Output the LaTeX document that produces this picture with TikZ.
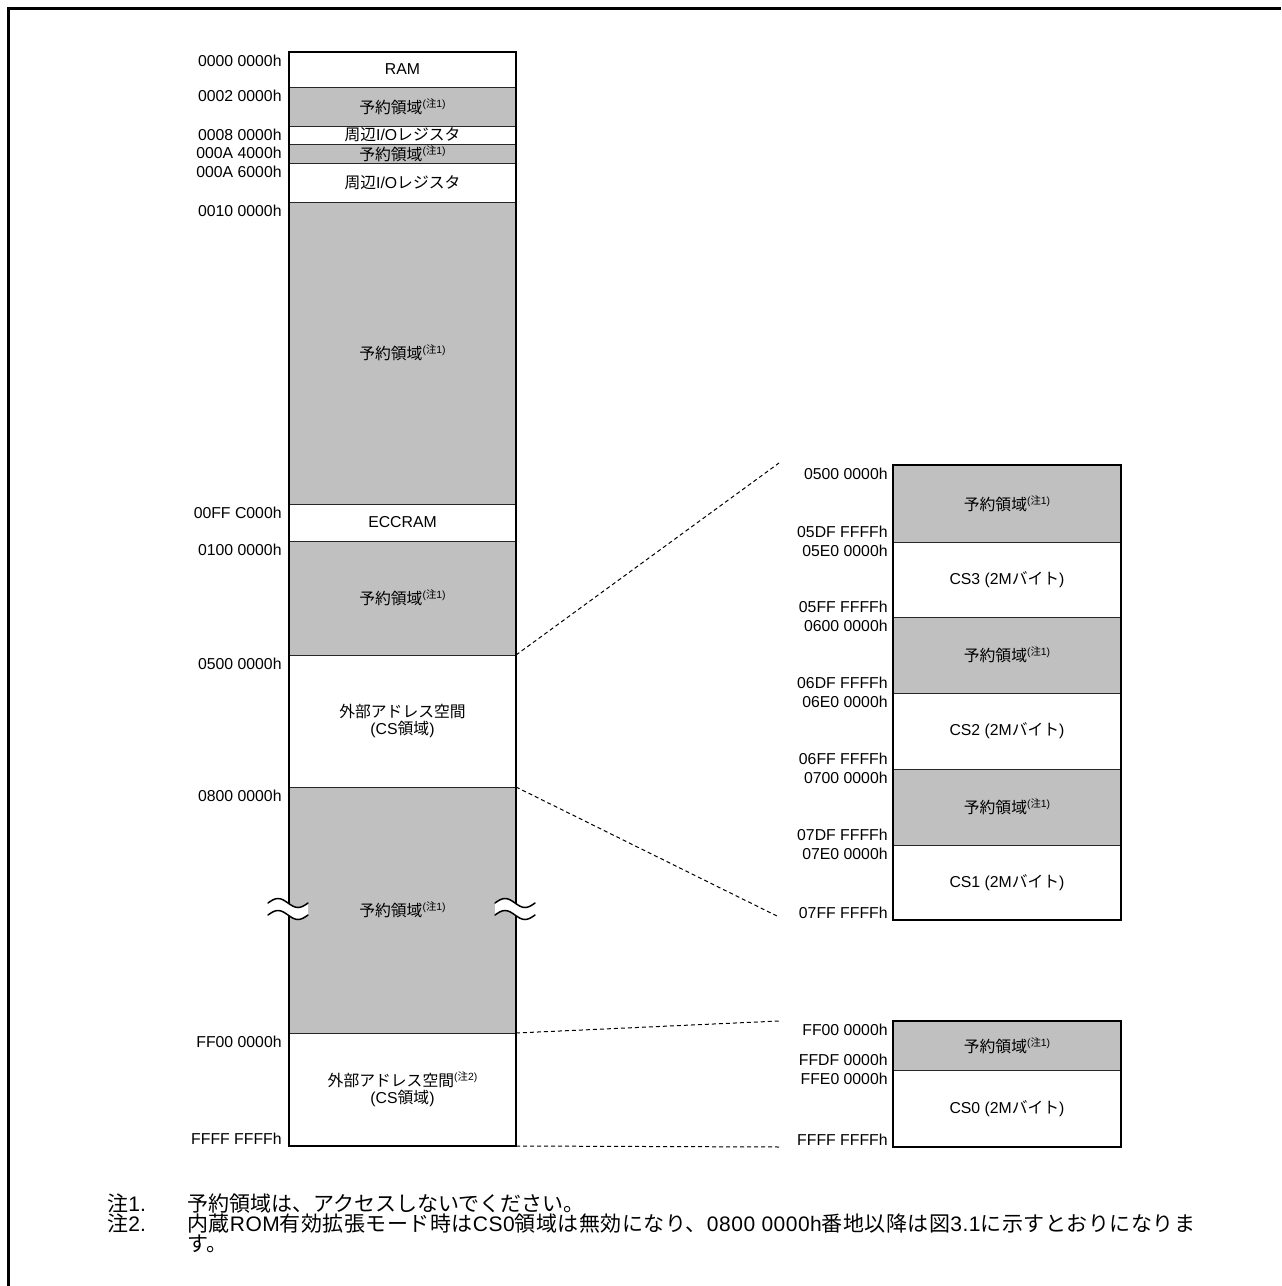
\documentclass[tikz,border=0pt]{standalone}
\usepackage{fontspec}
\setmainfont{Liberation Sans}
\newfontfamily\jpfont{Noto Sans CJK JP}
\newfontfamily\jplsfont{Noto Sans CJK JP}[LetterSpace=2.4]
\definecolor{resv}{RGB}{192,192,192}
\newcommand\jp[1]{{\jpfont #1}}
\newcommand\jq[1]{{\jplsfont #1}}
\newcommand\lsp[1]{{\addfontfeature{LetterSpace=2.4}#1}}
\newcommand\chu[1]{\raisebox{0.36em}{\fontsize{5.2}{5.2}\selectfont(\jp{注}#1)}}
\newcommand\yoy{\jp{予約領域}\chu{1}}
\newcommand\mrow[7]{%
  \fill[#6] (#2,#4) rectangle (#3,#5);
  \draw[divider] (#2,#4) -- (#3,#4);
  \node[rowtxt] (#1) at ({(#2+#3)/2},{(#4+#5)/2}) {#7};}
\newcommand\astart[4]{\node[addr, anchor=north east] (#1) at (#2,#3+3) {#4};}
\newcommand\aend[4]{\node[addr, anchor=south east] (#1) at (#2,#3-3.5) {#4};}
\newcommand\waves[2]{%
  \fill[white] (#1,903) sin ++(10,-4.5) cos ++(10,4.5) sin ++(10,4.5) cos ++(10,-4.5)
     -- ++(0,12) sin ++(-10,4.5) cos ++(-10,-4.5) sin ++(-10,-4.5) cos ++(-10,4.5) -- cycle;
  \draw[wave] (#1,903) sin ++(10,-4.5) cos ++(10,4.5) sin ++(10,4.5) cos ++(10,-4.5);
  \draw[wave] (#1,915) sin ++(10,-4.5) cos ++(10,4.5) sin ++(10,4.5) cos ++(10,-4.5);}
\tikzset{
  divider/.style={line width=0.5pt, draw=black!85},
  outer/.style={line width=1pt, draw=black},
  rowtxt/.style={font=\fontsize{7.9}{8.8}\selectfont, align=center, inner sep=0pt},
  addr/.style={font=\fontsize{7.9}{9}\selectfont, inner sep=0pt},
  note/.style={font=\fontsize{10.5}{12}\selectfont, inner sep=0pt},
  zoomline/.style={line width=0.5pt, dash pattern=on 2pt off 1.5pt},
  wave/.style={line width=0.75pt, line cap=round},
}
\begin{document}
\begin{tikzpicture}[x=0.5pt,y=-0.5pt]
\useasboundingbox (0,0) rectangle (1281,1286);
\fill[white] (0,0) rectangle (1281,1286);
\draw[line width=1.5pt] (8.5,1286) -- (8.5,8.5) -- (1281,8.5);

% ---------- left column ----------
\mrow{l1}{289}{516}{52}{87}{white}{RAM}
\mrow{l2}{289}{516}{87}{126}{resv}{\yoy}
\mrow{l3}{289}{516}{126}{144}{white}{\jp{周辺}I/O\jp{レジスタ}}
\mrow{l4}{289}{516}{144}{163}{resv}{\yoy}
\mrow{l5}{289}{516}{163}{202}{white}{\jp{周辺}I/O\jp{レジスタ}}
\mrow{l6}{289}{516}{202}{504}{resv}{\yoy}
\mrow{l7}{289}{516}{504}{541}{white}{ECCRAM}
\mrow{l8}{289}{516}{541}{655}{resv}{\yoy}
\mrow{l9}{289}{516}{655}{787}{white}{\jp{外部アドレス空間}\\(CS\jp{領域})}
\mrow{l10}{289}{516}{787}{1033}{resv}{\yoy}
\mrow{l11}{289}{516}{1033}{1146}{white}{\jp{外部アドレス空間}\chu{2}\\(CS\jp{領域})}
\draw[outer] (289,52) rectangle (516,1146);
\coordinate (LcsT) at (516,655);
\coordinate (LcsB) at (516,787);
\coordinate (LffT) at (516,1033);
\coordinate (LffB) at (516,1146);

\astart{a1}{282}{52}{0000 0000h}
\astart{a2}{282}{87}{0002 0000h}
\astart{a3}{282}{126}{0008 0000h}
\astart{a4}{282}{144}{000A 4000h}
\astart{a5}{282}{163}{000A 6000h}
\astart{a6}{282}{202}{0010 0000h}
\astart{a7}{282}{504}{00FF C000h}
\astart{a8}{282}{541}{0100 0000h}
\astart{a9}{282}{655}{0500 0000h}
\astart{a10}{282}{787}{0800 0000h}
\astart{a11}{282}{1033}{FF00 0000h}
\node[addr, anchor=south east] (a12) at (282,1145) {FFFF FFFFh};

% break marks
\waves{268}{}
\waves{495}{}

% ---------- right column: CS3..CS1 ----------
\mrow{r1}{893}{1121}{465}{542}{resv}{\yoy}
\mrow{r2}{893}{1121}{542}{617}{white}{CS3 (2M\jp{バイト})}
\mrow{r3}{893}{1121}{617}{693}{resv}{\yoy}
\mrow{r4}{893}{1121}{693}{769}{white}{CS2 (2M\jp{バイト})}
\mrow{r5}{893}{1121}{769}{845}{resv}{\yoy}
\mrow{r6}{893}{1121}{845}{920}{white}{CS1 (2M\jp{バイト})}
\draw[outer] (893,465) rectangle (1121,920);

\astart{b1}{888}{465}{0500 0000h}
\aend{b2}{888}{542}{05DF FFFFh}
\astart{b3}{888}{542}{05E0 0000h}
\aend{b4}{888}{617}{05FF FFFFh}
\astart{b5}{888}{617}{0600 0000h}
\aend{b6}{888}{693}{06DF FFFFh}
\astart{b7}{888}{693}{06E0 0000h}
\aend{b8}{888}{769}{06FF FFFFh}
\astart{b9}{888}{769}{0700 0000h}
\aend{b10}{888}{845}{07DF FFFFh}
\astart{b11}{888}{845}{07E0 0000h}
\node[addr, anchor=south east] (b12) at (888,919) {07FF FFFFh};

% ---------- right column: CS0 ----------
\mrow{s1}{893}{1121}{1021}{1070}{resv}{\yoy}
\mrow{s2}{893}{1121}{1070}{1147}{white}{CS0 (2M\jp{バイト})}
\draw[outer] (893,1021) rectangle (1121,1147);

\astart{c1}{888}{1021}{FF00 0000h}
\aend{c2}{888}{1070}{FFDF 0000h}
\astart{c3}{888}{1070}{FFE0 0000h}
\node[addr, anchor=south east] (c4) at (888,1146) {FFFF FFFFh};

% ---------- zoom lines ----------
\coordinate (RaT) at (779,463);
\coordinate (RaB) at (779,917);
\coordinate (RbT) at (779,1021);
\coordinate (RbB) at (781,1147);
\draw[zoomline] (LcsT) -- (RaT);
\draw[zoomline] (LcsB) -- (RaB);
\draw[zoomline] (LffT) -- (RbT);
\draw[zoomline] (LffB) -- (RbB);

% ---------- notes ----------
\node[note, anchor=base west] (n1a) at (107,1211) {\jp{注}1.};
\node[note, anchor=base west] (n1b) at (187,1211) {\jp{予約領域は、アクセスしないでください。}};
\node[note, anchor=base west] (n2a) at (107,1231) {\jp{注}2.};
\node[note, anchor=base west] (n2b) at (187,1231) {\jq{内蔵}\lsp{ROM}\jq{有効拡張モード時は}\lsp{CS0}\jq{領域は無効になり、}\lsp{0800 0000h}\jq{番地以降は図}\lsp{3.1}\jq{に示すとおりになりま}};
\node[note, anchor=base west] (n3) at (187,1251) {\jp{す。}};
\end{tikzpicture}
\end{document}
